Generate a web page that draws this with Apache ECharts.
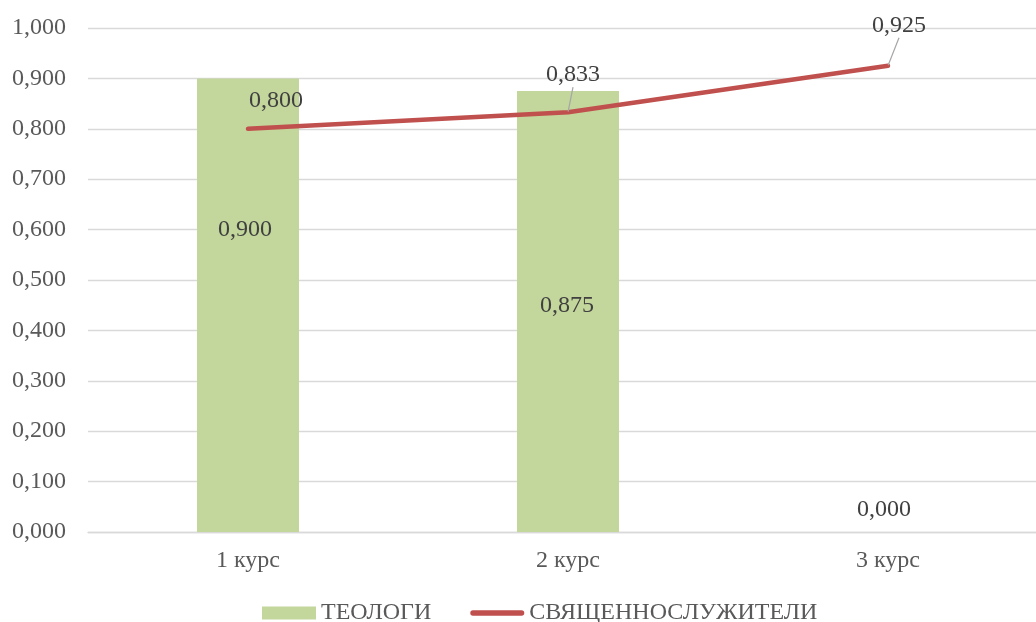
<!DOCTYPE html>
<html>
<head>
<meta charset="utf-8">
<script src="https://cdn.jsdelivr.net/npm/echarts@6/dist/echarts.min.js"></script>
<style>
html,body{margin:0;padding:0;background:#fff;overflow:hidden;width:1036px;height:622px;}
#chart{width:1048px;height:622px;}
</style>
</head>
<body>
<div id="chart"></div>
<script>
// ---- data ----
var categories = ['1 курс', '2 курс', '3 курс'];
var theologians = [0.900, 0.875, 0.000];
var clergy = [0.800, 0.833, 0.925];
var seriesNames = ['ТЕОЛОГИ', 'СВЯЩЕННОСЛУЖИТЕЛИ'];
var yTicks = [0, 0.1, 0.2, 0.3, 0.4, 0.5, 0.6, 0.7, 0.8, 0.9, 1.0];

// ---- styling (label placement) ----
var barLabelOffsets = [[-3, -75], [-1, -6], [-4, -22]];
var lineLabelOffsets = [[28, -28], [5, -37], [11, -40]];
var lineLeader = [false, true, true];

var FONT = '"Liberation Serif", "Times New Roman", serif';
function fmt(v) { return Number(v).toFixed(3).replace('.', ','); }

var chart = echarts.init(document.getElementById('chart'), null, {renderer: 'canvas'});

var barData = theologians.map(function (v, i) {
  return { value: v, label: { offset: barLabelOffsets[i] } };
});
var lineData = clergy.map(function (v, i) {
  return {
    value: v,
    label: { offset: lineLabelOffsets[i] },
    labelLine: { show: lineLeader[i], lineStyle: { color: '#a6a6a6', width: 1.2 } }
  };
});

chart.setOption({
  animation: false,
  backgroundColor: '#ffffff',
  textStyle: { fontFamily: FONT },
  grid: { left: 88, right: 0, top: 28, bottom: 90, containLabel: false },
  legend: {
    left: 257,
    top: 596,
    itemWidth: 54,
    itemHeight: 13,
    itemGap: 39,
    textStyle: { fontFamily: FONT, fontSize: 24, color: '#595959' },
    data: [
      { name: seriesNames[0], icon: 'rect' },
      { name: seriesNames[1], icon: 'path://M3,0 L57,0 A3,3 0 0 1 57,6 L3,6 A3,3 0 0 1 3,0 Z' }
    ]
  },
  xAxis: {
    type: 'category',
    data: categories,
    boundaryGap: true,
    axisLine: { show: true, lineStyle: { color: '#d9d9d9', width: 1.3 } },
    axisTick: { show: false },
    axisLabel: { fontFamily: FONT, fontSize: 24, color: '#595959', margin: 17 },
    splitLine: { show: false }
  },
  yAxis: {
    type: 'value',
    min: yTicks[0],
    max: yTicks[yTicks.length - 1],
    interval: yTicks[1] - yTicks[0],
    axisLine: { show: false },
    axisTick: { show: false },
    axisLabel: { fontFamily: FONT, fontSize: 24, color: '#595959', margin: 22, formatter: fmt },
    splitLine: { show: true, lineStyle: { color: '#d9d9d9', width: 1.3 } }
  },
  series: [
    {
      name: seriesNames[0],
      type: 'bar',
      data: barData,
      barWidth: 102,
      itemStyle: { color: '#c3d69b' },
      label: {
        show: true,
        position: 'inside',
        fontFamily: FONT,
        fontSize: 24,
        color: '#404040',
        formatter: function (p) { return fmt(p.value); }
      },
      z: 2
    },
    {
      name: seriesNames[1],
      type: 'line',
      data: lineData,
      symbol: 'circle',
      symbolSize: 1,
      showSymbol: true,
      itemStyle: { color: '#c0504d' },
      lineStyle: { color: '#c0504d', width: 4.5, cap: 'round', join: 'round' },
      label: {
        show: true,
        position: 'inside',
        fontFamily: FONT,
        fontSize: 24,
        color: '#404040',
        formatter: function (p) { return fmt(p.value); }
      },
      z: 3
    }
  ]
});
</script>
</body>
</html>
